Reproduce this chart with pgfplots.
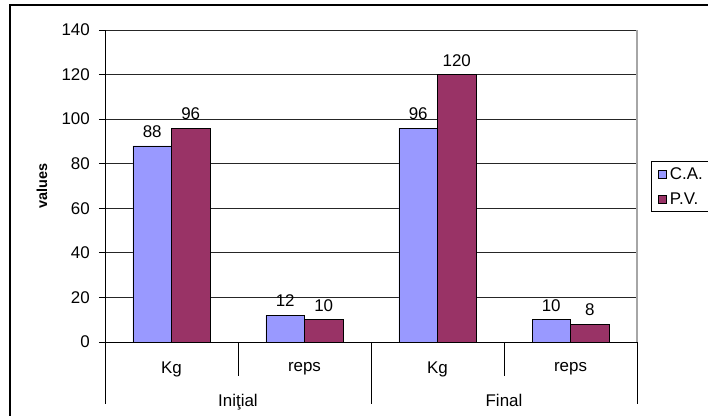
\documentclass[border=0pt]{standalone}
\usepackage{fontspec}
\setmainfont{Liberation Sans}
\usepackage{pgfplots}
\pgfplotsset{compat=1.18}

\definecolor{caBlue}{HTML}{9999FF}
\definecolor{pvPlum}{HTML}{993366}
\newcommand{\chartfont}{\fontsize{17}{20}\selectfont}

\begin{document}
\begin{tikzpicture}
% page area and the chart frame around it
\clip (-105bp,-74bp) rectangle (603bp,342bp);
\fill[white] (-105bp,-74bp) rectangle (603bp,342bp);
\draw[line width=1.5bp] (-95bp,-95bp) rectangle (625bp,337bp);
\begin{axis}[
  at={(0,0)}, anchor=south west,
  scale only axis, width=532bp, height=312bp,
  clip=false,
  /pgf/number format/assume math mode=true,
  xmin=-0.5, xmax=3.5, ymin=0, ymax=140,
  ytick={0,20,...,140},
  xtick={0,1,2,3}, xticklabels={Kg,reps,Kg,reps},
  axis x line*=bottom, axis y line*=left,
  axis line style={black, line width=0.8bp},
  x axis line style={-}, y axis line style={-},
  xtick style={draw=none},
  ytick style={black, line width=0.8bp},
  tick align=outside, major tick length=6bp,
  ymajorgrids, grid style={black!85, line width=0.8bp},
  tick label style={font=\chartfont},
  yticklabel style={inner sep=0pt, xshift=-9bp},
  xticklabel style={inner sep=0pt, yshift=-14bp},
  ylabel={values},
  ylabel style={font=\bfseries\fontsize{14.5}{17}\selectfont,
    at={(axis description cs:-0.1184,0.5)}, anchor=center},
  ybar=0pt, bar width=38.5bp,
  every axis plot/.append style={draw=black, line width=0.7bp},
  nodes near coords,
  every node near coord/.append style={font=\chartfont, inner sep=0pt,
    anchor=south, yshift=8bp, black},
  legend style={at={(1.0263,0.580)}, anchor=north west,
    draw=black, line width=0.8bp, font=\chartfont,
    inner xsep=7bp, inner ysep=4bp, row sep=8bp,
    /tikz/every odd column/.style={column sep=1bp},
    cells={anchor=west}},
  legend image code/.code={%
    \draw[#1, line width=0.6bp] (0bp,-4bp) rectangle (8bp,4bp);},
]
\addplot[fill=caBlue] coordinates {(0,88) (1,12) (2,96) (3,10)};
\addplot[fill=pvPlum] coordinates {(0,96) (1,10) (2,120) (3,8)};
\legend{C.A.,P.V.}

% right border of the plot area
\draw[gray!70, line width=1.2bp] (rel axis cs:1,0) -- (rel axis cs:1,1);
% category separators below the axis
\draw[black, line width=0.8bp] (axis cs:-0.5,0) -- ([yshift=-62bp]axis cs:-0.5,0);
\draw[black, line width=0.8bp] (axis cs:0.5,0) -- ([yshift=-34bp]axis cs:0.5,0);
\draw[black, line width=0.8bp] (axis cs:1.5,0) -- ([yshift=-62bp]axis cs:1.5,0);
\draw[black, line width=0.8bp] (axis cs:2.5,0) -- ([yshift=-34bp]axis cs:2.5,0);
\draw[black, line width=0.8bp] (axis cs:3.5,0) -- ([yshift=-62bp]axis cs:3.5,0);
% group labels
\node[font=\chartfont, anchor=base] at ([yshift=-64bp]axis cs:0.5,0) {Iniţial};
\node[font=\chartfont, anchor=base] at ([yshift=-64bp]axis cs:2.5,0) {Final};
\end{axis}
\end{tikzpicture}
\end{document}
